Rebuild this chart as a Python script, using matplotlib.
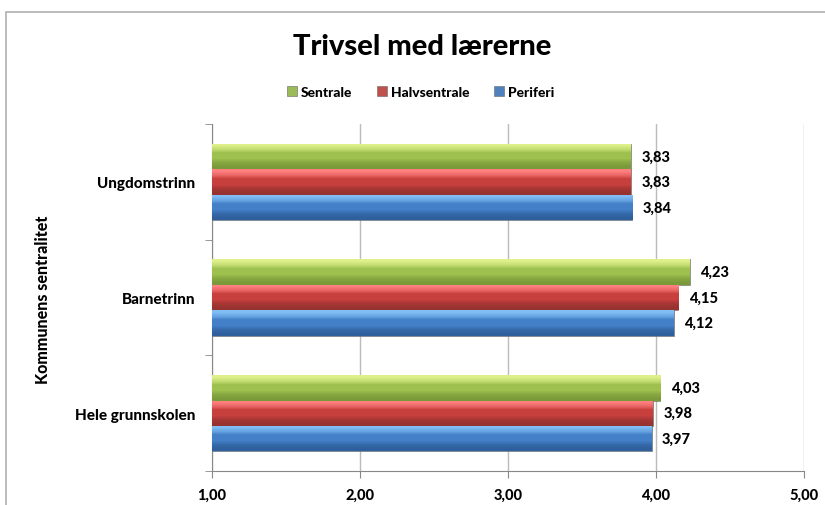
import matplotlib
matplotlib.use('Agg')
import matplotlib.pyplot as plt
from matplotlib.patches import Rectangle
from matplotlib.colors import LinearSegmentedColormap
import numpy as np

plt.rcParams['font.family'] = ['Lato', 'DejaVu Sans']

categories = ['Hele grunnskolen', 'Barnetrinn', 'Ungdomstrinn']
series_names = ['Sentrale', 'Halvsentrale', 'Periferi']
sentrale = [4.03, 4.23, 3.83]
halvsentrale = [3.98, 4.15, 3.83]
periferi = [3.97, 4.12, 3.84]
x_ticks = [1, 2, 3, 4, 5]

colors = ['#9BBB59', '#C0504D', '#4F81BD']
# light top / base / dark bottom for the bevelled look
shades = [['#DDF08A', '#9DC04E', '#7A9A3A'],
          ['#FF8080', '#C8403E', '#963230'],
          ['#80BEF5', '#4380C8', '#2F5F9C']]
values = [sentrale, halvsentrale, periferi]
W = 'black'

fig = plt.figure(figsize=(8.25, 5.06), dpi=100)
ax = fig.add_axes([0.257, 0.067, 0.7175, 0.686])

# outer chart frame
fig.patches.append(Rectangle((0.0073, -0.02), 1.1, 0.994, transform=fig.transFigure,
                             fill=False, edgecolor='#b0b0b0', linewidth=1.2))

h = 0.22
y = np.arange(len(categories))
offsets = [h, 0, -h]
grad = np.array([[0.0], [0.12], [0.35], [0.6], [0.85], [1.0]])
for vals, col, sh, off, name in zip(values, colors, shades, offsets, series_names):
    bars = ax.barh(y + off, np.array(vals) - 1, left=1, height=h, color=col,
                   edgecolor='#666666', linewidth=0.4, label=name, zorder=3)
    cmap = LinearSegmentedColormap.from_list('g', [sh[0], sh[1], sh[1], sh[2]])
    for b, v in zip(bars, vals):
        x0, y0, bw, bh = b.get_x(), b.get_y(), b.get_width(), b.get_height()
        im = ax.imshow(grad, extent=[x0, x0 + bw, y0, y0 + bh], origin='lower',
                       aspect='auto', cmap=cmap.reversed(), interpolation='bilinear', zorder=3.5)
        im.set_clip_path(b)
        ax.text(v + 0.07, y0 + bh / 2, f'{v:.2f}'.replace('.', ','),
                va='center', ha='left', fontsize=10.5, fontweight=W)

ax.set_xlim(1, 5)
ax.set_ylim(-0.5, 2.5)
ax.set_xticks(x_ticks)
ax.set_xticklabels([f'{t:.2f}'.replace('.', ',') for t in x_ticks], fontsize=10.5, fontweight=W)
ax.set_yticks(y)
ax.set_yticklabels(categories, fontsize=11, fontweight=W)
ax.set_yticks([-0.5, 0.5, 1.5, 2.5], minor=True)
ax.tick_params(axis='y', which='major', length=0, pad=12)
ax.tick_params(axis='y', which='minor', length=5, color='#888888')
ax.tick_params(axis='x', length=5, color='#888888', pad=7)
ax.grid(axis='x', color='#bbbbbb', linewidth=1, zorder=0)
for s in ['top', 'right']:
    ax.spines[s].set_visible(False)
for s in ['left', 'bottom']:
    ax.spines[s].set_color('#888888')

fig.text(0.052, 0.407, 'Kommunens sentralitet', rotation=90, ha='center', va='center',
         fontsize=11.5, fontweight=W)
fig.text(0.512, 0.907, 'Trivsel med lærerne', ha='center', va='center', fontsize=21, fontweight=W)
handles, labels = ax.get_legend_handles_labels()
fig.legend(handles, labels, loc='center', bbox_to_anchor=(0.51, 0.817), ncol=3, frameon=False,
           prop={'size': 10, 'weight': W}, handlelength=0.7, handleheight=0.7,
           handletextpad=0.3, columnspacing=1.8)

fig.savefig('out.png', dpi=100)
